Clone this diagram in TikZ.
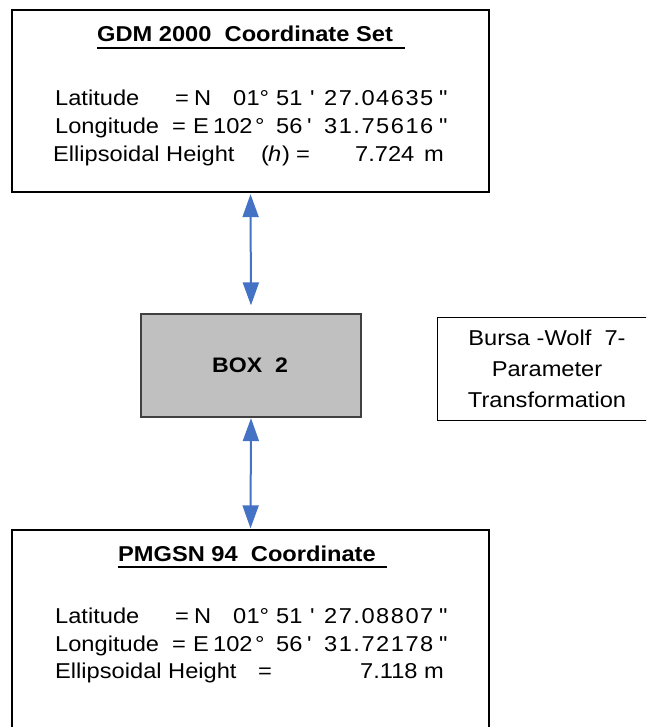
\documentclass[tikz,border=0pt]{standalone}
\usepackage{fontspec}
\newfontfamily\arial{Liberation Sans}[FakeStretch=1.1]
\usetikzlibrary{arrows.meta}
\definecolor{linkblue}{HTML}{4472C4}
\definecolor{boxgray}{HTML}{C0C0C0}
% place #2 at absolute horizontal offset #1 (pt) from the line start
\newcommand\cell[2]{\makebox[0pt][l]{\hspace*{#1pt}#2}}
% loosely tracked figures for the angle values
\newcommand\tracked[1]{{\addfontfeatures{LetterSpace=7}#1}}
\begin{document}
\begin{tikzpicture}[x=1pt,y=-1pt,
  every node/.style={font=\arial\fontsize{21.5}{26}\selectfont},
  panel/.style={draw=black,line width=1.3pt,rectangle,inner sep=0pt},
  row/.style={anchor=base west,inner sep=0pt},
  title/.style={anchor=base west,inner sep=0pt,font=\arial\bfseries\fontsize{21.5}{26}\selectfont},
  biarrow/.style={draw=linkblue,line width=2pt,{Triangle[width=16pt,length=23pt]}-{Triangle[width=16pt,length=23pt]}}]
\useasboundingbox (0,0) rectangle (646,727);
\clip (0,0) rectangle (646,727);

% frames
\node[panel,minimum width=477pt,minimum height=182pt] (gdm) at (250.5,101) {};
\node[panel,fill=boxgray,draw=black!75,minimum width=220pt,minimum height=103pt] (box2) at (251,365.5) {};
\node[panel,line width=1pt,minimum width=226pt,minimum height=103pt] (bw) at (550,368.5) {};
\node[panel,minimum width=477pt,minimum height=212pt] (pmg) at (250.5,636) {};

% GDM 2000 block
\node[title] (gdmtitle) at (97,42) {GDM 2000\ \ Coordinate Set};
\draw[line width=1.8pt] ([yshift=-6pt]gdmtitle.base west) -- ([yshift=-6pt,xshift=12pt]gdmtitle.base east);
\node[row] (gdmlat) at (0,106) {\cell{55}{Latitude}\cell{175}{=}\cell{194}{N}\cell{233}{0}\cell{246.5}{1}\cell{259.5}{°}\cell{276}{51}\cell{310}{'}\cell{324}{\tracked{27.04635}}\cell{439}{"}\hspace*{450pt}};
\node[row] (gdmlon) at (0,134) {\cell{55}{Longitude}\cell{172}{=}\cell{193}{E}\cell{213}{102}\cell{255}{°}\cell{276}{56}\cell{307}{'}\cell{324}{\tracked{31.75616}}\cell{439}{"}\hspace*{450pt}};
\node[row] (gdmh) at (0,162) {\cell{53}{Ellipsoidal Height}\cell{261}{(}\cell{268}{\textit{h}}\cell{282}{)}\cell{296}{=}\cell{355}{7.724}\cell{424}{m}\hspace*{450pt}};

% middle boxes
\node[inner sep=0pt,anchor=base,font=\arial\bfseries\fontsize{21}{26}\selectfont] (box2txt) at (250,372) {BOX\ \ 2};
\node[inner sep=0pt,anchor=base] (bw1) at (547,345) {Bursa -Wolf\ \ 7-};
\node[inner sep=0pt,anchor=base] (bw2) at (547,376) {Parameter};
\node[inner sep=0pt,anchor=base] (bw3) at (547,407) {Transformation};

% PMGSN 94 block
\node[title] (pmgtitle) at (118,561) {PMGSN 94\ \ Coordinate};
\draw[line width=1.8pt] ([yshift=-6pt]pmgtitle.base west) -- ([yshift=-6pt,xshift=11pt]pmgtitle.base east);
\node[row] (pmglat) at (0,623) {\cell{55}{Latitude}\cell{175}{=}\cell{194}{N}\cell{233}{0}\cell{246.5}{1}\cell{259.5}{°}\cell{276}{51}\cell{310}{'}\cell{324}{\tracked{27.08807}}\cell{439}{"}\hspace*{450pt}};
\node[row] (pmglon) at (0,651) {\cell{55}{Longitude}\cell{172}{=}\cell{193}{E}\cell{213}{102}\cell{255}{°}\cell{276}{56}\cell{307}{'}\cell{324}{\tracked{31.72178}}\cell{439}{"}\hspace*{450pt}};
\node[row] (pmgh) at (0,678) {\cell{55}{Ellipsoidal Height}\cell{258}{=}\cell{360}{7.118}\cell{424}{m}\hspace*{450pt}};

% connectors
\draw[biarrow,shorten <=1.5pt,shorten >=8pt] (gdm.south) -- (box2.north);
\draw[biarrow,shorten <=0.5pt,shorten >=1pt] (box2.south) -- (pmg.north);
\end{tikzpicture}
\end{document}
